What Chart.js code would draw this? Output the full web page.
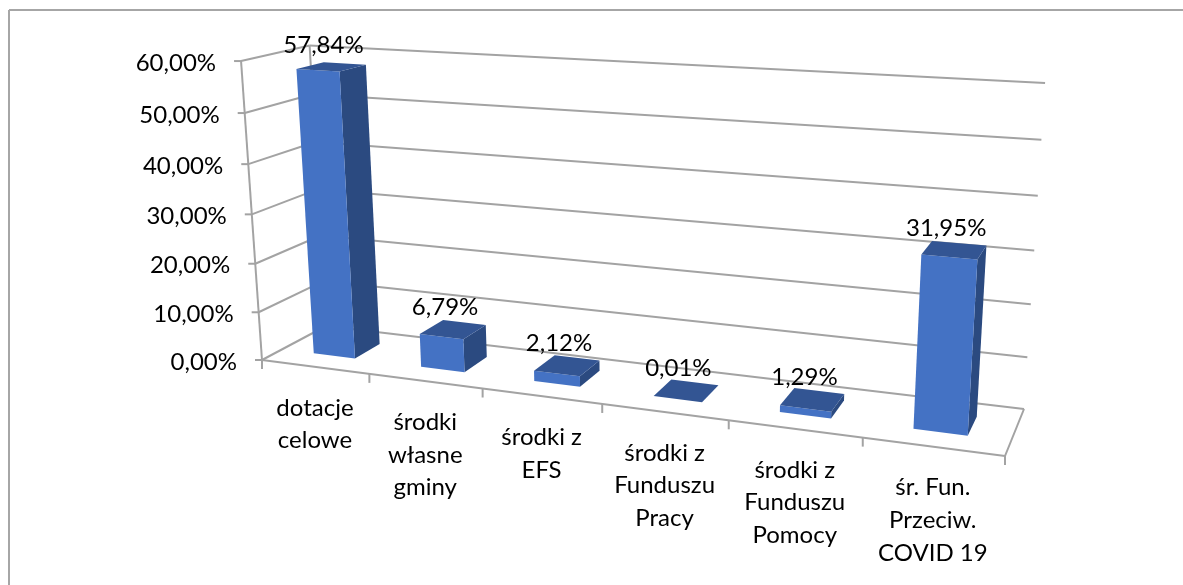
<!DOCTYPE html>
<html>
<head>
<meta charset="utf-8">
<style>
  html, body { margin: 0; padding: 0; background: #fff; }
  canvas { display: block; }
</style>
</head>
<body>
<canvas id="chart" width="1183" height="585"></canvas>
<script src="https://cdn.jsdelivr.net/npm/chart.js@4"></script>
<script>
const categories = [
    ['dotacje', 'celowe'],
    ['środki', 'własne', 'gminy'],
    ['środki z', 'EFS'],
    ['środki z', 'Funduszu', 'Pracy'],
    ['środki z', 'Funduszu', 'Pomocy'],
    ['śr. Fun.', 'Przeciw.', 'COVID 19']
];
const shares = [57.84, 6.79, 2.12, 0.01, 1.29, 31.95];
const yMax = 60;
const yStep = 10;

const FONT = '24px Lato, sans-serif';
const LINE_COLOR = '#a3a3a3';
const FRONT_COLOR = '#4472c4';
const TOP_COLOR = '#335593';
const SIDE_COLOR = '#2b4a80';

// depth of the bars on the floor, 0 = front edge, 1 = back wall
const BAR_NEAR = 0.30;
const BAR_FAR = 0.71;

// the 3D view: floor corners as seen in the picture, plus how height leans and shrinks
const floor = { fl: [262, 360], fr: [1005, 456], br: [1024, 409], bl: [326, 326] };
const lift = { x: -33, y: -302, h: -0.05 };

function makeCamera(q, up) {
    const dx1 = q.fr[0] - q.br[0], dx2 = q.bl[0] - q.br[0], sx = q.fl[0] - q.fr[0] + q.br[0] - q.bl[0];
    const dy1 = q.fr[1] - q.br[1], dy2 = q.bl[1] - q.br[1], sy = q.fl[1] - q.fr[1] + q.br[1] - q.bl[1];
    const den = dx1 * dy2 - dx2 * dy1;
    const g = (sx * dy2 - dx2 * sy) / den;
    const h = (dx1 * sy - sx * dy1) / den;
    const a = q.fr[0] - q.fl[0] + g * q.fr[0];
    const b = q.bl[0] - q.fl[0] + h * q.bl[0];
    const d = q.fr[1] - q.fl[1] + g * q.fr[1];
    const e = q.bl[1] - q.fl[1] + h * q.bl[1];
    return (u, v, w) => {
        const k = g * u + h * v + 1 + up.h * w;
        return [(a * u + b * v + q.fl[0] + up.x * w) / k, (d * u + e * v + q.fl[1] + up.y * w) / k];
    };
}
const project = makeCamera(floor, lift);

function stroke(ctx, from, to) {
    ctx.beginPath();
    ctx.moveTo(from[0], from[1]);
    ctx.lineTo(to[0], to[1]);
    ctx.stroke();
}

function face(ctx, color, points) {
    ctx.fillStyle = color;
    ctx.beginPath();
    points.forEach((p, i) => i ? ctx.lineTo(p[0], p[1]) : ctx.moveTo(p[0], p[1]));
    ctx.closePath();
    ctx.fill();
}

const view3d = {
    id: 'view3d',
    beforeDatasetsDraw(chart) {
        const ctx = chart.ctx;
        const area = chart.chartArea;
        const xScale = chart.scales.x;
        const yScale = chart.scales.y;
        const toU = px => (px - area.left) / (area.right - area.left);
        const toW = px => (area.bottom - px) / (area.bottom - area.top);

        ctx.save();

        // outer frame, only top and left show
        ctx.strokeStyle = '#a6a6a6';
        ctx.lineWidth = 2;
        stroke(ctx, [9, 10], [1183, 10]);
        stroke(ctx, [9, 10], [9, 585]);

        // walls, floor and ticks
        ctx.strokeStyle = LINE_COLOR;
        ctx.lineWidth = 2;
        yScale.ticks.forEach(tick => {
            const w = toW(yScale.getPixelForValue(tick.value));
            const corner = project(0, 0, w);
            stroke(ctx, [corner[0] - 7, corner[1]], corner);
            stroke(ctx, corner, project(0, 1, w));
            stroke(ctx, project(0, 1, w), project(1, 1, w));
        });
        stroke(ctx, project(0, 0, 0), project(0, 0, 1));
        stroke(ctx, project(0, 1, 0), project(0, 1, 1));
        stroke(ctx, project(0, 0, 0), project(1, 0, 0));
        stroke(ctx, project(1, 0, 0), project(1, 1, 0));
        for (let i = 0; i <= categories.length; i++) {
            const p = project(i / categories.length, 0, 0);
            stroke(ctx, p, [p[0], p[1] + 9]);
        }

        // the bars, laid out by Chart.js and projected here
        const bars = chart.getDatasetMeta(0).data;
        bars.forEach(bar => {
            const u0 = toU(bar.x - bar.width / 2);
            const u1 = toU(bar.x + bar.width / 2);
            const w0 = toW(bar.base);
            const w1 = toW(bar.y);
            face(ctx, SIDE_COLOR, [
                project(u1, BAR_NEAR, w0), project(u1, BAR_FAR, w0),
                project(u1, BAR_FAR, w1), project(u1, BAR_NEAR, w1)
            ]);
            face(ctx, FRONT_COLOR, [
                project(u0, BAR_NEAR, w0), project(u1, BAR_NEAR, w0),
                project(u1, BAR_NEAR, w1), project(u0, BAR_NEAR, w1)
            ]);
            face(ctx, TOP_COLOR, [
                project(u0, BAR_NEAR, w1), project(u1, BAR_NEAR, w1),
                project(u1, BAR_FAR, w1), project(u0, BAR_FAR, w1)
            ]);
        });

        // texts
        ctx.font = FONT;
        ctx.fillStyle = '#000';
        ctx.textBaseline = 'middle';

        ctx.textAlign = 'right';
        yScale.ticks.forEach(tick => {
            const corner = project(0, 0, toW(yScale.getPixelForValue(tick.value)));
            ctx.fillText(tick.label, corner[0] - 25, corner[1] + 2);
        });

        ctx.textAlign = 'center';
        bars.forEach((bar, i) => {
            const top = project(toU(bar.x), (BAR_NEAR + BAR_FAR) / 2, toW(bar.y));
            ctx.fillText(shares[i].toFixed(2).replace('.', ',') + '%', top[0] - 8, top[1] - 22);
        });

        categories.forEach((lines, i) => {
            const p = project(toU(xScale.getPixelForValue(i)), 0, 0);
            lines.forEach((line, n) => ctx.fillText(line, p[0], p[1] + 41 + n * 32.7));
        });

        ctx.restore();
        return false;
    }
};

new Chart(document.getElementById('chart'), {
    type: 'bar',
    data: {
        labels: categories,
        datasets: [{
            data: shares,
            backgroundColor: FRONT_COLOR,
            categoryPercentage: 1,
            barPercentage: 0.39
        }]
    },
    options: {
        responsive: false,
        animation: false,
        layout: { padding: 0 },
        plugins: {
            legend: { display: false },
            tooltip: { enabled: false }
        },
        scales: {
            x: { display: false },
            y: {
                display: false,
                min: 0,
                max: yMax,
                ticks: {
                    stepSize: yStep,
                    callback: value => value.toFixed(2).replace('.', ',') + '%'
                }
            }
        }
    },
    plugins: [view3d]
});
</script>
</body>
</html>
